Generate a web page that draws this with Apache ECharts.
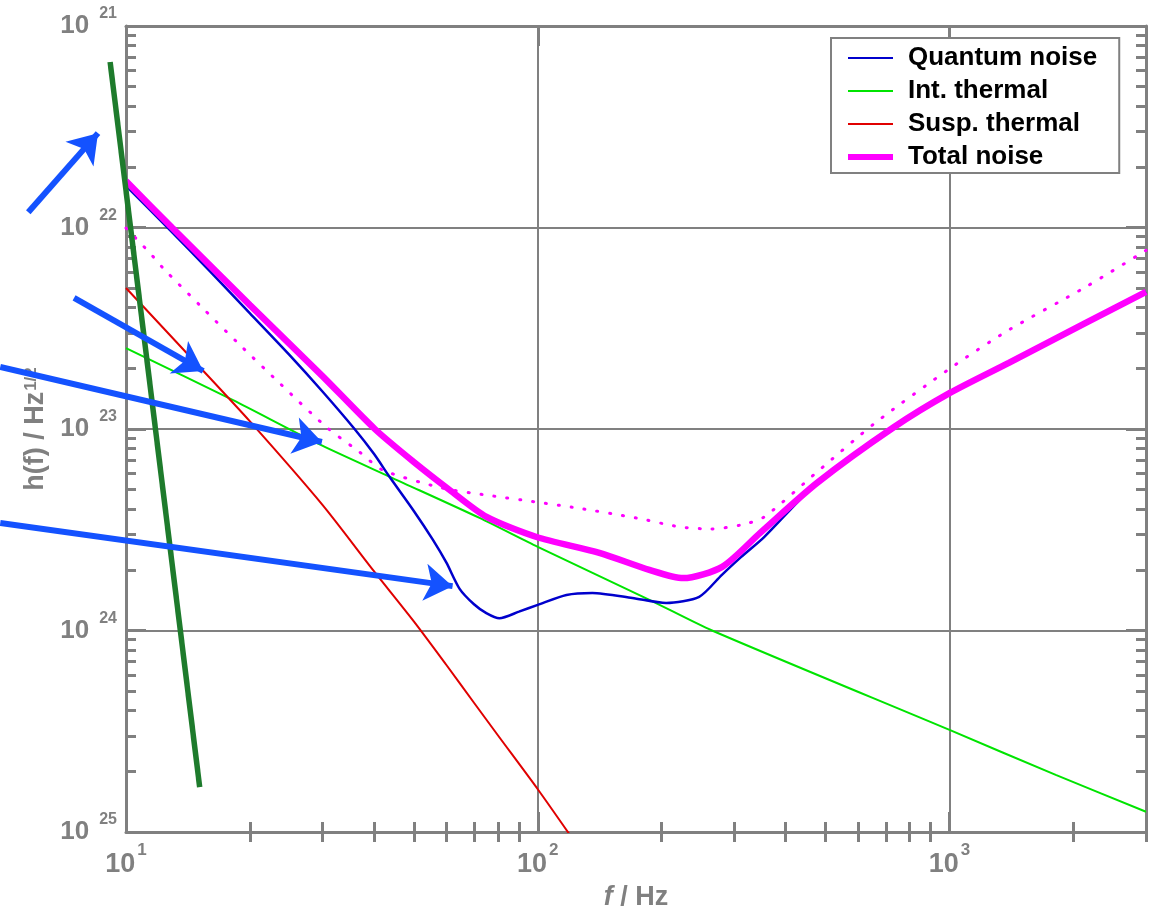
<!DOCTYPE html>
<html>
<head>
<meta charset="utf-8">
<script src="https://cdn.jsdelivr.net/npm/echarts@6/dist/echarts.min.js"></script>
<style>
html, body { margin: 0; padding: 0; background: #fff; }
#chart { width: 1150px; height: 907px; }
</style>
</head>
<body>
<div id="chart"></div>
<script>
// 噪声曲线, f 单位 Hz, h 单位 1/sqrt(Hz)
var quantumF = [10, 12.65, 16, 20, 25, 30, 35.9, 40, 43.6, 50, 55.5, 60, 64.6, 70, 75, 80.7, 90, 100, 117.4, 135.7, 169.7, 205, 246.6, 280, 312, 354.6, 476.8, 732, 1002, 1393, 2142, 3000];
var quantumH = [1.61e-22, 9.94e-23, 6.05e-23, 3.75e-23, 2.32e-23, 1.535e-23, 1.0e-23, 7.53e-24, 5.81e-24, 3.92e-24, 2.84e-24, 2.17e-24, 1.61e-24, 1.35e-24, 1.22e-24, 1.15e-24, 1.24e-24, 1.34e-24, 1.50e-24, 1.535e-24, 1.45e-24, 1.37e-24, 1.47e-24, 1.89e-24, 2.32e-24, 2.91e-24, 5.40e-24, 1.02e-23, 1.51e-23, 2.13e-23, 3.36e-23, 4.79e-23];

var intThermalF = [10, 18.2, 29, 44.4, 72.2, 100, 186.7, 265, 1000, 1811, 3000];
var intThermalH = [2.52e-23, 1.39e-23, 8.53e-24, 5.71e-24, 3.62e-24, 2.60e-24, 1.42e-24, 1.0e-24, 3.21e-25, 1.92e-25, 1.26e-25];

var suspThermalF = [10, 15, 20, 30, 40, 50, 60, 70, 80, 100, 120];
var suspThermalH = [5.01e-23, 2.06e-23, 1.09e-23, 4.2e-24, 1.97e-24, 1.11e-24, 6.74e-25, 4.38e-25, 3.02e-25, 1.63e-25, 9.6e-26];

var totalF = [10, 12.93, 20, 30, 40.2, 50, 61.1, 75.1, 99.3, 141.1, 186.6, 225.6, 280.5, 346.9, 476.8, 732, 1002, 1393, 2142, 3000];
var totalH = [1.70e-22, 1.0e-22, 4.12e-23, 1.83e-23, 1.0e-23, 6.86e-24, 4.98e-24, 3.66e-24, 2.91e-24, 2.43e-24, 2.0e-24, 1.82e-24, 2.07e-24, 3.05e-24, 5.40e-24, 1.02e-23, 1.51e-23, 2.13e-23, 3.36e-23, 4.79e-23];

// 点线 (没有图例)
var dottedF = [10, 11.43, 12.3, 15.1, 18.6, 23.6, 30.7, 36.9, 42, 58.7, 75.1, 99.3, 124.2, 173.5, 220.7, 262.4, 312, 354.6, 476.8, 659, 1014, 1393, 2142, 3000];
var dottedH = [9.94e-23, 7.47e-23, 6.29e-23, 4.12e-23, 2.70e-23, 1.69e-23, 1.02e-23, 7.69e-24, 6.26e-24, 5.09e-24, 4.70e-24, 4.34e-24, 4.06e-24, 3.62e-24, 3.27e-24, 3.19e-24, 3.34e-24, 3.66e-24, 6.12e-24, 1.07e-23, 2.03e-23, 3.10e-23, 5.07e-23, 7.7e-23];

// 深绿色粗线: 两端
var wallFrom = [9.15, 6.63e-22];
var wallTo = [15.1, 1.67e-25];

// 蓝色箭头: 起点 -> 终点
var arrowFrom = [[5.79, 1.19e-22], [7.48, 4.47e-23], [4.95, 2.03e-23], [4.95, 3.42e-24]];
var arrowTo = [[8.55, 2.94e-22], [15.4, 1.94e-23], [29.9, 8.62e-24], [62.1, 1.66e-24]];

// 坐标轴
var fMin = 10, fMax = 3000;
var hMin = 1e-25, hMax = 1e-21;
var minorMantissa = [2, 3, 4, 5, 6, 7, 8, 9];
var xDecades = [10, 100, 1000];
var yDecades = [1e-25, 1e-24, 1e-23, 1e-22];

// log 轴对 1e-22 这种小数取整会变 0, 所以纵轴用 1e-25 为单位
var H_UNIT = 1e-25;
var GRAY = '#808080';
var FONT = 'Liberation Sans, Arial, sans-serif';

function pairs(fs, hs) {
    var out = [];
    for (var i = 0; i < fs.length; i++) out.push([fs[i], hs[i] / H_UNIT]);
    return out;
}

function seg(a, b) {
    return {coords: [[a[0], a[1] / H_UNIT], [b[0], b[1] / H_UNIT]]};
}

var xMinor = [];
xDecades.forEach(function (d) {
    minorMantissa.forEach(function (m) {
        if (m * d <= fMax) xMinor.push(Math.log10(m * d));
    });
});
var yMinor = [];
yDecades.forEach(function (d) {
    minorMantissa.forEach(function (m) {
        yMinor.push(Math.log10(m * d / H_UNIT));
    });
});

var arrowData = [];
for (var i = 0; i < arrowFrom.length; i++) arrowData.push(seg(arrowFrom[i], arrowTo[i]));

var chart = echarts.init(document.getElementById('chart'));

var frameLine = {onZero: false, lineStyle: {color: GRAY, width: 3}};
var majorTick = {inside: true, length: 20, lineStyle: {color: GRAY, width: 3}};

function minorTick(vals) {
    return {inside: true, length: 10, customValues: vals, lineStyle: {color: GRAY, width: 3}};
}

var thinIcon = 'path://M0,0H45V2H0Z';
var thickIcon = 'path://M0,0H45V6H0Z';

var option = {
    animation: false,
    backgroundColor: '#fff',
    grid: {left: 126, right: 4, top: 26, bottom: 75, outerBoundsMode: 'none', containLabel: false},
    legend: {
        orient: 'vertical',
        left: 831,
        top: 38,
        selectedMode: false,
        itemWidth: 45,
        itemHeight: 14,
        itemGap: 7,
        padding: [7, 22, 3, 17],
        borderColor: GRAY,
        borderWidth: 2,
        backgroundColor: '#fff',
        textStyle: {fontFamily: FONT, fontSize: 26, fontWeight: 'bold', color: '#000', lineHeight: 26, padding: [0, 0, 0, 10]},
        data: [
            {name: 'Quantum noise', icon: thinIcon},
            {name: 'Int. thermal', icon: thinIcon},
            {name: 'Susp. thermal', icon: thinIcon},
            {name: 'Total noise', icon: thickIcon}
        ]
    },
    xAxis: [{
        type: 'log', logBase: 10, min: fMin, max: fMax, position: 'bottom',
        axisLine: frameLine, axisTick: majorTick,
        splitLine: {show: true, lineStyle: {color: GRAY, width: 2}},
        axisLabel: {
            margin: 10,
            formatter: function (v) {
                var e = Math.log10(v);
                if (Math.abs(e - Math.round(e)) > 1e-6) return '';
                return '{b|10}{s|' + Math.round(e) + '}';
            },
            rich: {
                b: {fontFamily: FONT, fontSize: 27, fontWeight: 'bold', color: GRAY},
                s: {fontFamily: FONT, fontSize: 17, fontWeight: 'bold', color: GRAY, padding: [0, 0, 28, 2]}
            }
        },
        name: '{i|f}{n| / Hz}',
        nameLocation: 'middle',
        nameGap: 52,
        nameTextStyle: {
            rich: {
                i: {fontFamily: FONT, fontSize: 27, fontWeight: 'bold', fontStyle: 'italic', color: GRAY},
                n: {fontFamily: FONT, fontSize: 27, fontWeight: 'bold', color: GRAY}
            }
        }
    }, {
        type: 'value', min: 1, max: Math.log10(fMax), position: 'bottom',
        axisLine: {show: false}, axisTick: minorTick(xMinor),
        axisLabel: {show: false}, splitLine: {show: false}
    }, {
        type: 'log', logBase: 10, min: fMin, max: fMax, position: 'top',
        axisLine: frameLine, axisTick: majorTick,
        axisLabel: {show: false}, splitLine: {show: false}
    }, {
        type: 'value', min: 1, max: Math.log10(fMax), position: 'top',
        axisLine: {show: false}, axisTick: minorTick(xMinor),
        axisLabel: {show: false}, splitLine: {show: false}
    }],
    yAxis: [{
        type: 'log', logBase: 10, min: hMin / H_UNIT, max: hMax / H_UNIT, position: 'left',
        axisLine: frameLine, axisTick: majorTick,
        splitLine: {show: true, lineStyle: {color: GRAY, width: 2}},
        axisLabel: {
            margin: 9,
            formatter: function (v) {
                var e = Math.round(Math.log10(v * H_UNIT));
                return '{b|10}{s|' + (-e) + '}';
            },
            rich: {
                b: {fontFamily: FONT, fontSize: 26, fontWeight: 'bold', color: GRAY},
                s: {fontFamily: FONT, fontSize: 16, fontWeight: 'bold', color: GRAY, padding: [0, 0, 24, 10]}
            }
        },
        name: '{n|h(f) / Hz}{s|1/2}',
        nameLocation: 'middle',
        nameRotate: 90,
        nameGap: 69,
        nameTextStyle: {
            rich: {
                n: {fontFamily: FONT, fontSize: 27, fontWeight: 'bold', color: GRAY},
                s: {fontFamily: FONT, fontSize: 17, fontWeight: 'bold', color: GRAY, padding: [0, 0, 9, 1]}
            }
        }
    }, {
        type: 'value', min: 0, max: Math.log10(hMax / hMin), position: 'left',
        axisLine: {show: false}, axisTick: minorTick(yMinor),
        axisLabel: {show: false}, splitLine: {show: false}
    }, {
        type: 'log', logBase: 10, min: hMin / H_UNIT, max: hMax / H_UNIT, position: 'right',
        axisLine: frameLine, axisTick: majorTick,
        axisLabel: {show: false}, splitLine: {show: false}
    }, {
        type: 'value', min: 0, max: Math.log10(hMax / hMin), position: 'right',
        axisLine: {show: false}, axisTick: minorTick(yMinor),
        axisLabel: {show: false}, splitLine: {show: false}
    }],
    series: [{
        name: 'Int. thermal', type: 'line', data: pairs(intThermalF, intThermalH),
        symbol: 'none', smooth: 0.25, color: '#00e400',
        lineStyle: {color: '#00e400', width: 2}, z: 3
    }, {
        name: 'Susp. thermal', type: 'line', data: pairs(suspThermalF, suspThermalH),
        symbol: 'none', smooth: 0.25, color: '#e00000',
        lineStyle: {color: '#e00000', width: 2}, z: 3
    }, {
        name: 'Quantum noise', type: 'line', data: pairs(quantumF, quantumH),
        symbol: 'none', smooth: 0.25, color: '#0000cc',
        lineStyle: {color: '#0000cc', width: 2.5}, z: 4
    }, {
        name: 'dotted', type: 'line', data: pairs(dottedF, dottedH),
        symbol: 'none', smooth: 0.25, color: '#ff00ff',
        lineStyle: {color: '#ff00ff', width: 3, type: [1, 12], cap: 'round'}, z: 4
    }, {
        name: 'Total noise', type: 'line', data: pairs(totalF, totalH),
        symbol: 'none', smooth: 0.25, color: '#ff00ff',
        lineStyle: {color: '#ff00ff', width: 6.5}, z: 5
    }, {
        name: 'wall', type: 'lines', coordinateSystem: 'cartesian2d',
        xAxisIndex: 0, yAxisIndex: 0, clip: false, symbol: 'none',
        lineStyle: {color: '#1e7b2c', width: 5.5, opacity: 1, curveness: 0},
        data: [seg(wallFrom, wallTo)], z: 6
    }, {
        name: 'arrows', type: 'lines', coordinateSystem: 'cartesian2d',
        xAxisIndex: 0, yAxisIndex: 0, clip: false,
        symbol: ['none', 'arrow'], symbolSize: [20, 28],
        lineStyle: {color: '#1452ff', width: 6, opacity: 1, curveness: 0},
        data: arrowData, z: 10
    }]
};
chart.setOption(option);
</script>
</body>
</html>
